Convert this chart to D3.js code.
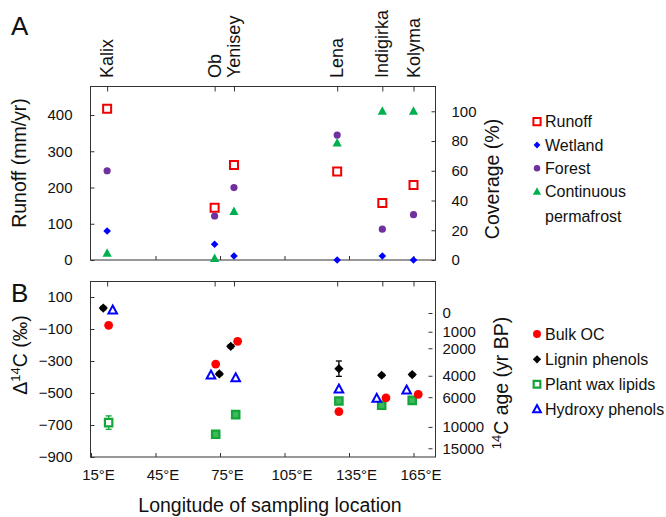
<!DOCTYPE html>
<html>
<head>
<meta charset="utf-8">
<script src="https://cdn.jsdelivr.net/npm/d3@7"></script>
<style>
body { margin: 0; background: #fff; }
text { font-family: "Liberation Sans", Arial, sans-serif; fill: #111; }
.frame { fill: none; stroke: #333; stroke-width: 1; }
.tick line { stroke: #333; }
</style>
</head>
<body>
<svg id="chart" width="666" height="517"></svg>
<script>
// rivers and their longitude (deg E)
var rivers = ["Kalix", "Ob", "Yenisey", "Lena", "Indigirka", "Kolyma"];
var riverLon = [22.5, 72.5, 81.5, 129.5, 150.5, 165];
var lonTicks = [15, 45, 75, 105, 135, 165];

// panel A
var runoff = [417, 144, 262, 244, 157, 207];          // mm/yr
var wetland = [19.5, 10.6, 2.7, 0, 2.7, 0];           // %
var forest = [60, 29.6, 48.7, 84, 20.7, 30.5];        // %
var permafrost = [4.5, 1, 32.5, 78.6, 100, 100];      // %
var runoffTicks = [0, 100, 200, 300, 400];
var coverTicks = [0, 20, 40, 60, 80, 100];

// panel B (delta 14C, permil) with the longitude each point is drawn at
var bulkLon = [23.2, 73.0, 83.2, 130.3, 152.2, 167.2];
var bulkOC = [-77, -319, -177, -616, -531, -508];
var ligninLon = [20.7, 74.7, 80.0, 130.3, 150.2, 164.4];
var lignin = [31, -381, -208, -348, -389, -385];
var ligninErr = [10, 10, 10, 48, 8, 8];
var waxLon = [23.2, 73.0, 82.3, 130.3, 150.2, 164.4];
var plantWax = [-685, -758, -635, -550, -577, -546];
var waxErr = [42, 10, 10, 10, 10, 10];
var hydLon = [25.1, 70.8, 82.3, 130.3, 147.9, 161.8];
var hydroxy = [17, -389, -406, -477, -535, -483];
var deltaTicks = [100, -100, -300, -500, -700, -900];
var ageTicks = [0, 1000, 2000, 4000, 6000, 10000, 15000];

var svg = d3.select("#chart");

var x = d3.scaleLinear().domain([15, 175]).range([91, 435]);
var yRun = d3.scaleLinear().domain([0, 480]).range([260, 86]);
var yCov = d3.scaleLinear().domain([0, 117]).range([260, 86]);
var yD = d3.scaleLinear().domain([-900, 200]).range([457, 281]);

function ageToDelta(a) { return 1000 * (Math.exp(-a / 8033) - 1); }

function shape(type, r) {
    if (type == "square") return "M" + (-r) + "," + (-r) + "h" + 2 * r + "v" + 2 * r + "h" + (-2 * r) + "Z";
    if (type == "diamond") return "M0," + (-r) + "L" + r + ",0L0," + r + "L" + (-r) + ",0Z";
    if (type == "triangle") return "M0," + (-r * 1.1) + "L" + r + "," + (r * 0.75) + "L" + (-r) + "," + (r * 0.75) + "Z";
    return d3.symbol(d3.symbolCircle, Math.PI * r * r)();
}

var styles = {
    runoff: { type: "square", r: 4, fill: "#fff", stroke: "#f00000", sw: 2 },
    wetland: { type: "diamond", r: 3.8, fill: "#0000ff", stroke: "none", sw: 0 },
    forest: { type: "circle", r: 3.6, fill: "#7030a0", stroke: "none", sw: 0 },
    permafrost: { type: "triangle", r: 4.6, fill: "#00b050", stroke: "none", sw: 0 },
    bulk: { type: "circle", r: 4.4, fill: "#ff0000", stroke: "none", sw: 0 },
    lignin: { type: "diamond", r: 4.6, fill: "#000", stroke: "none", sw: 0 },
    wax: { type: "square", r: 3.7, fill: "#fff", stroke: "#13a538", sw: 2.2 },
    hydroxy: { type: "triangle", r: 4.3, fill: "#fff", stroke: "#0000ff", sw: 2 }
};

function drawPoints(lons, vals, yScale, st, fillFn) {
    svg.append("g").selectAll("path")
        .data(vals)
        .join("path")
        .attr("transform", function(d, i) { return "translate(" + x(lons[i]) + "," + yScale(d) + ")"; })
        .attr("d", shape(st.type, st.r))
        .attr("fill", fillFn || st.fill)
        .attr("stroke", st.stroke)
        .attr("stroke-width", st.sw);
}

function errBars(lons, vals, errs, color) {
    var g = svg.append("g").attr("stroke", color).attr("stroke-width", 1.3);
    vals.forEach(function(v, i) {
        var cx = x(lons[i]), y1 = yD(v + errs[i]), y2 = yD(v - errs[i]);
        g.append("line").attr("x1", cx).attr("x2", cx).attr("y1", y1).attr("y2", y2);
        g.append("line").attr("x1", cx - 3).attr("x2", cx + 3).attr("y1", y1).attr("y2", y1);
        g.append("line").attr("x1", cx - 3).attr("x2", cx + 3).attr("y1", y2).attr("y2", y2);
    });
}

function clean(g) {
    g.select(".domain").remove();
    g.selectAll(".tick text").style("font-size", "15px").attr("font-family", null);
}

// ---------- panel A ----------
svg.append("rect").attr("class", "frame").attr("x", 90.5).attr("y", 86.5).attr("width", 345).attr("height", 173.5);

svg.append("g").attr("transform", "translate(90.5,0)")
    .call(d3.axisLeft(yRun).tickValues(runoffTicks).tickSize(-4).tickPadding(18))
    .call(clean);
svg.append("g").attr("transform", "translate(435.5,0)")
    .call(d3.axisRight(yCov).tickValues(coverTicks).tickSize(-4).tickPadding(16))
    .call(clean);
svg.append("g").attr("transform", "translate(0,260)")
    .call(d3.axisBottom(x).tickValues(lonTicks.slice(1)).tickSize(-4).tickFormat(""))
    .call(clean);
svg.append("g").attr("transform", "translate(0,86.5)")
    .call(d3.axisTop(x).tickValues(riverLon).tickSize(-5).tickFormat(""))
    .call(clean);

svg.append("g").selectAll("text")
    .data(rivers)
    .join("text")
    .attr("transform", function(d, i) { return "translate(" + (x(riverLon[i]) + 6) + ",78) rotate(-90)"; })
    .style("font-size", "18px")
    .text(function(d) { return d; });

drawPoints(riverLon, runoff, yRun, styles.runoff);
drawPoints(riverLon, forest, yCov, styles.forest);
drawPoints(riverLon, permafrost, yCov, styles.permafrost);
drawPoints(riverLon, wetland, yCov, styles.wetland);

svg.append("text").attr("x", 11).attr("y", 35).style("font-size", "26px").text("A");
svg.append("text").attr("transform", "translate(26,163) rotate(-90)")
    .attr("text-anchor", "middle").style("font-size", "19.5px").text("Runoff (mm/yr)");
svg.append("text").attr("transform", "translate(499,179) rotate(-90)")
    .attr("text-anchor", "middle").style("font-size", "19.5px").text("Coverage (%)");

// ---------- panel B ----------
svg.append("rect").attr("class", "frame").attr("x", 90.5).attr("y", 281.5).attr("width", 345).attr("height", 175.5);

svg.append("g").attr("transform", "translate(90.5,0)")
    .call(d3.axisLeft(yD).tickValues(deltaTicks).tickSize(-4).tickPadding(18))
    .call(clean);
svg.append("g").attr("transform", "translate(432.5,0)")
    .call(d3.axisRight(yD).tickValues(ageTicks.map(ageToDelta)).tickSize(-4).tickPadding(10)
        .tickFormat(function(d, i) { return ageTicks[i]; }))
    .call(clean);
svg.append("g").attr("transform", "translate(0,457)")
    .call(d3.axisBottom(x).tickValues(lonTicks).tickSize(-4).tickPadding(12)
        .tickFormat(function(d) { return d + "°E"; }))
    .call(clean)
    .selectAll(".tick text").attr("dx", 7);
svg.append("g").attr("transform", "translate(0,281.5)")
    .call(d3.axisTop(x).tickValues(riverLon).tickSize(-5).tickFormat(""))
    .call(clean);

// wax squares look solid when the error bar is hidden inside the marker
errBars(waxLon, plantWax, waxErr, "#13a538");
drawPoints(waxLon, plantWax, yD, styles.wax, function(d, i) {
    return yD(d - waxErr[i]) - yD(d + waxErr[i]) > 10 ? "#fff" : "#3cb95a";
});
errBars(ligninLon, lignin, ligninErr, "#000");
drawPoints(ligninLon, lignin, yD, styles.lignin);
drawPoints(bulkLon, bulkOC, yD, styles.bulk);
drawPoints(hydLon, hydroxy, yD, styles.hydroxy);

svg.append("text").attr("x", 11).attr("y", 302).style("font-size", "26px").text("B");

var dTitle = svg.append("text").attr("transform", "translate(27,355) rotate(-90)")
    .attr("text-anchor", "middle").style("font-size", "19.5px");
dTitle.append("tspan").text("Δ");
dTitle.append("tspan").attr("dy", -7).style("font-size", "13px").text("14");
dTitle.append("tspan").attr("dy", 7).text("C (‰)");

var aTitle = svg.append("text").attr("transform", "translate(508,383) rotate(-90)")
    .attr("text-anchor", "middle").style("font-size", "19.5px");
aTitle.append("tspan").attr("dy", -7).style("font-size", "13px").text("14");
aTitle.append("tspan").attr("dy", 7).text("C age (yr BP)");

svg.append("text").attr("x", 270).attr("y", 512).attr("text-anchor", "middle")
    .style("font-size", "19.5px").text("Longitude of sampling location");

// ---------- legends ----------
var legA = [
    { st: styles.runoff, label: "Runoff", y: 121.7 },
    { st: styles.wetland, label: "Wetland", y: 145 },
    { st: styles.forest, label: "Forest", y: 168.3 },
    { st: styles.permafrost, label: "Continuous", y: 191.7 }
];
var legB = [
    { st: styles.bulk, label: "Bulk OC", y: 334 },
    { st: styles.lignin, label: "Lignin phenols", y: 359.3 },
    { st: styles.wax, label: "Plant wax lipids", y: 384.3 },
    { st: styles.hydroxy, label: "Hydroxy phenols", y: 409.3 }
];
legA.concat(legB).forEach(function(e) {
    svg.append("path")
        .attr("transform", "translate(537," + e.y + ")")
        .attr("d", shape(e.st.type, e.st.r * 0.9))
        .attr("fill", e.st.fill).attr("stroke", e.st.stroke).attr("stroke-width", e.st.sw);
    svg.append("text").attr("x", 545).attr("y", e.y).attr("dy", "0.35em")
        .style("font-size", "16px").text(e.label);
});
svg.append("text").attr("x", 545).attr("y", 216.7).attr("dy", "0.35em")
    .style("font-size", "16px").text("permafrost");
</script>
</body>
</html>
